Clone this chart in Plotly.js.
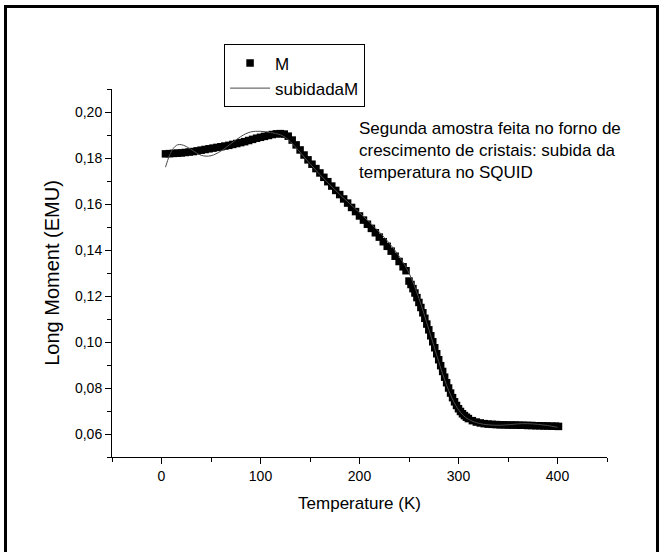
<!DOCTYPE html>
<html>
<head>
<meta charset="utf-8">
<script src="https://cdn.plot.ly/plotly-3.0.1.min.js"></script>
<style>
  html, body { margin:0; padding:0; background:#fff; overflow:hidden; }
  #wrap { position:relative; width:663px; height:552px; }
  #chart { position:absolute; left:0; top:0; width:663px; height:552px; }
  #frame { position:absolute; left:4px; top:5px; width:649px; height:600px;
           border:3px solid #000; pointer-events:none; box-sizing:content-box; }
</style>
</head>
<body>
<div id="wrap">
  <div id="chart"></div>
  <div id="frame"></div>
</div>
<script>
// Measured data (markers): temperature (K) and long moment (EMU)
var temperature = [4,8,12,16,20,24,28,32,36,40,44,48,52,56,60,64,68,72,76,80,84,88,92,96,100,104,108,112,116,120,124,128,132,136,140,144,148,152,156,160,164,168,172,176,180,184,188,192,196,200,204,208,212,216,220,224,228,232,236,240,244,247,250,252,254,256,258,260,262,264,266,268,270,272,274,276,278,280,282,284,286,288,290,292,294,296,298,300,302,304,306,308,310,314,318,322,326,330,334,338,342,346,350,354,358,362,366,370,374,378,382,386,390,394,398,401];
var moment = [0.1818,0.1819,0.1820,0.1821,0.1822,0.1824,0.1826,0.1828,0.1831,0.1834,0.1837,0.1840,0.1843,0.1846,0.1849,0.1852,0.1855,0.1859,0.1863,0.1867,0.1871,0.1876,0.1881,0.1886,0.1890,0.1894,0.1898,0.1902,0.1905,0.1906,0.1904,0.1895,0.1878,0.1857,0.1835,0.1813,0.1792,0.1773,0.1754,0.1735,0.1716,0.1697,0.1678,0.1659,0.1641,0.1622,0.1604,0.1585,0.1567,0.1548,0.1530,0.1512,0.1494,0.1475,0.1456,0.1436,0.1416,0.1395,0.1373,0.1350,0.1327,0.1310,0.1265,0.1250,0.1232,0.1213,0.1193,0.1172,0.1150,0.1127,0.1103,0.1078,0.1053,0.1027,0.1001,0.0975,0.0949,0.0923,0.0897,0.0872,0.0847,0.0823,0.0800,0.0778,0.0758,0.0740,0.0724,0.0710,0.0698,0.0688,0.0680,0.0673,0.0667,0.0658,0.0652,0.0648,0.0645,0.0643,0.0642,0.0641,0.0640,0.0640,0.0639,0.0639,0.0639,0.0638,0.0638,0.0637,0.0637,0.0636,0.0636,0.0635,0.0635,0.0634,0.0634,0.0633];

// Fitted curve "subidadaM"
var fitTemperature = [4,8,12,16,20,25,30,35,40,45,50,55,60,65,70,75,80,85,90,95,100,105,110,115,120,125,130,140,150,160,170,180,190,200,210,220,230,240,250,260,270,280,285,290,295,300,305,310,320,330,340,350,360,370,380,390,400];
var fitMoment = [0.1760,0.1810,0.1842,0.1857,0.1858,0.1850,0.1837,0.1823,0.1812,0.1808,0.1810,0.1818,0.1830,0.1845,0.1862,0.1878,0.1893,0.1905,0.1913,0.1916,0.1916,0.1914,0.1911,0.1907,0.1901,0.1890,0.1872,0.1825,0.1775,0.1728,0.1684,0.1642,0.1602,0.1562,0.1521,0.1478,0.1430,0.1373,0.1300,0.1190,0.1055,0.0915,0.0848,0.0790,0.0742,0.0705,0.0680,0.0664,0.0647,0.0640,0.0638,0.0640,0.0644,0.0645,0.0642,0.0637,0.0629];

var seriesNames = ['M', 'subidadaM'];
var xTitle = 'Temperature (K)';
var yTitle = 'Long Moment (EMU)';
var noteLines = ['Segunda amostra feita no forno de', 'crescimento de cristais: subida da', 'temperatura no SQUID'];

var traces = [
  { x: temperature, y: moment, name: seriesNames[0], type: 'scatter', mode: 'markers',
    marker: { symbol: 'square', size: 7.5, color: '#000', line: { width: 0 } } },
  { x: fitTemperature, y: fitMoment, name: seriesNames[1], type: 'scatter', mode: 'lines',
    line: { color: '#4a4a4a', width: 1, shape: 'spline', smoothing: 1 } }
];

var axisCommon = {
  ticks: 'outside', ticklen: 6, tickwidth: 1, tickcolor: '#000',
  showline: true, linecolor: '#000', linewidth: 1,
  showgrid: false, zeroline: false, tickfont: { size: 14, color: '#000' }
};

var layout = {
  width: 663, height: 552,
  margin: { l: 112, r: 56, t: 89, b: 95, pad: 0 },
  paper_bgcolor: '#fff', plot_bgcolor: '#fff',
  separators: ',.',
  font: { family: 'Liberation Sans, Arial, sans-serif', color: '#000' },
  showlegend: true,
  xaxis: Object.assign({}, axisCommon, {
    range: [-50, 450], tick0: 0, dtick: 100,
    minor: { tick0: 0, dtick: 50, ticks: 'outside', ticklen: 4, tickcolor: '#000', showgrid: false },
    title: { text: xTitle, font: { size: 17 }, standoff: 14 }
  }),
  yaxis: Object.assign({}, axisCommon, {
    range: [0.05, 0.21], tick0: 0, dtick: 0.02, tickformat: '.2f',
    minor: { tick0: 0, dtick: 0.01, ticks: 'outside', ticklen: 4, tickcolor: '#000', showgrid: false },
    title: { text: yTitle, font: { size: 20 }, standoff: 9 }
  }),
  legend: {
    x: 0.2264, y: 1.121, xanchor: 'left', yanchor: 'top',
    bordercolor: '#000', borderwidth: 1, bgcolor: '#fff',
    font: { size: 17 }, tracegroupgap: 0, itemwidth: 40
  },
  annotations: [{
    xref: 'paper', yref: 'paper', x: 0.495, y: 0.925,
    xanchor: 'left', yanchor: 'top', align: 'left', showarrow: false,
    text: noteLines.join('<br>'), font: { size: 17 }
  }]
};

Plotly.newPlot('chart', traces, layout, { staticPlot: true, displayModeBar: false });
</script>
</body>
</html>
